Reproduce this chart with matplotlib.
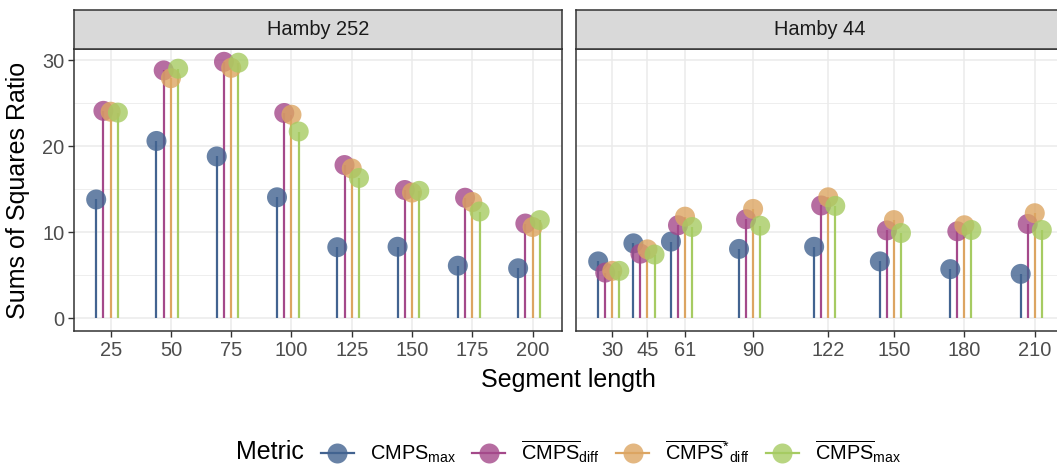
import numpy as np
import matplotlib
matplotlib.use('Agg')
import matplotlib.pyplot as plt
from matplotlib.lines import Line2D
from matplotlib.colors import to_rgba

plt.rcParams['font.family'] = ['Liberation Sans', 'DejaVu Sans']
plt.rcParams['mathtext.fontset'] = 'custom'
plt.rcParams['mathtext.rm'] = 'Liberation Sans'
plt.rcParams['mathtext.it'] = 'Liberation Sans:italic'
plt.rcParams['mathtext.bf'] = 'Liberation Sans:bold'

# Data
panels = ['Hamby 252', 'Hamby 44']
seg_252 = [25, 50, 75, 100, 125, 150, 175, 200]
seg_44 = [30, 45, 61, 90, 122, 150, 180, 210]

metric_labels = [r'$\mathrm{CMPS}_{\mathrm{max}}$',
                 r'$\overline{\mathrm{CMPS}}_{\mathrm{diff}}$',
                 r'$\overline{\mathrm{CMPS}}^{*}{}_{\mathrm{diff}}$',
                 r'$\overline{\mathrm{CMPS}}_{\mathrm{max}}$']

cmps_max_252 = [13.8, 20.6, 18.8, 14.05, 8.25, 8.3, 6.1, 5.8]
cmps_diff_bar_252 = [24.1, 28.8, 29.8, 23.85, 17.8, 14.9, 14.0, 11.0]
cmps_diff_star_252 = [24.0, 27.9, 29.1, 23.65, 17.4, 14.6, 13.5, 10.6]
cmps_max_bar_252 = [23.9, 29.0, 29.7, 21.7, 16.3, 14.8, 12.4, 11.4]

cmps_max_44 = [6.6, 8.7, 8.9, 8.05, 8.3, 6.6, 5.7, 5.15]
cmps_diff_bar_44 = [5.3, 7.5, 10.8, 11.5, 13.1, 10.2, 10.1, 10.95]
cmps_diff_star_44 = [5.5, 8.0, 11.8, 12.7, 14.05, 11.4, 10.8, 12.2]
cmps_max_bar_44 = [5.5, 7.4, 10.6, 10.75, 13.05, 9.9, 10.25, 10.25]

colors = ['#426390', '#A4498A', '#DCA562', '#A6CB62']
dodge = [-6, -3, 0, 3]

panel_data = [
    (seg_252, [cmps_max_252, cmps_diff_bar_252, cmps_diff_star_252, cmps_max_bar_252]),
    (seg_44, [cmps_max_44, cmps_diff_bar_44, cmps_diff_star_44, cmps_max_bar_44]),
]

W, H = 1057, 465
fig = plt.figure(figsize=(W / 100, H / 100), dpi=100)

# panel geometry in pixels
panel_left = [74, 576]
panel_w = 488
panel_top, panel_bot = 49, 331
strip_top = 10

dark = '#333333'
all_vals = [v for _, ser in panel_data for s in ser for v in s]
ymax = max(all_vals)
ylo, yhi = -0.05 * ymax, ymax * 1.05

for i, (name, (xs, series)) in enumerate(zip(panels, panel_data)):
    ax = fig.add_axes([panel_left[i] / W, (H - panel_bot) / H,
                       panel_w / W, (panel_bot - panel_top) / H])
    xs = np.array(xs, dtype=float)
    lo, hi = xs.min() + min(dodge), xs.max() + max(dodge)
    pad = 0.05 * (hi - lo)
    ax.set_xlim(lo - pad, hi + pad)
    ax.set_ylim(ylo, yhi)

    ax.set_yticks([0, 10, 20, 30])
    ax.set_yticks([5, 15, 25], minor=True)
    ax.set_xticks(xs)
    ax.set_xticklabels([str(int(x)) for x in xs])
    ax.grid(True, which='major', color='#ebebeb', lw=1.1, zorder=0)
    ax.grid(True, which='minor', axis='y', color='#ebebeb', lw=0.6, zorder=0)
    ax.set_axisbelow(True)
    ax.tick_params(which='minor', length=0)
    ax.tick_params(which='major', length=4, width=1.0, color=dark,
                   labelcolor='#4d4d4d', labelsize=14.4, pad=3)
    if i == 1:
        ax.tick_params(axis='y', left=False, labelleft=False)
    for sp in ax.spines.values():
        sp.set_color(dark)
        sp.set_linewidth(1.1)

    for k, vals in enumerate(series):
        xp = xs + dodge[k]
        ax.vlines(xp, 0, vals, color=colors[k], lw=1.6, zorder=2)
    for k, vals in enumerate(series):
        xp = xs + dodge[k]
        ax.scatter(xp, vals, s=14.4 ** 2, color=to_rgba(colors[k], 0.8),
                   edgecolors='none', zorder=3)

    # facet strip
    sax = fig.add_axes([panel_left[i] / W, (H - panel_top) / H,
                        panel_w / W, (panel_top - strip_top) / H])
    sax.set_facecolor('#d9d9d9')
    sax.set_xticks([])
    sax.set_yticks([])
    for sp in sax.spines.values():
        sp.set_color(dark)
        sp.set_linewidth(1.1)
    cx = ((panel_left[i] + panel_w / 2) if i == 0 else (panel_left[i] + panel_w / 2))
    fig.text(cx / W, (H - (panel_top + strip_top) / 2) / H, name,
             ha='center', va='center', fontsize=14.4, color='#1a1a1a')

fig.text(568.5 / W, (H - 380) / H, 'Segment length', ha='center', va='center',
         fontsize=18)
fig.text(18 / W, (H - 190) / H, 'Sums of Squares Ratio', ha='center',
         va='center', rotation=90, fontsize=18)

# legend
fig.text(236 / W, (H - 452) / H, 'Metric', ha='left', va='center', fontsize=18)
handles = [Line2D([0], [0], color=c, lw=1.6, marker='o', ms=14.4,
                  markerfacecolor=to_rgba(c, 0.8), markeredgecolor='none')
           for c in colors]
fig.legend(handles, metric_labels, loc='center left',
           bbox_to_anchor=(321 / W, (H - 452) / H), ncol=4, frameon=False,
           fontsize=14.4, handlelength=1.65, handletextpad=0.8,
           columnspacing=0.8, borderpad=0, borderaxespad=0)

fig.savefig('out.png', dpi=100)
